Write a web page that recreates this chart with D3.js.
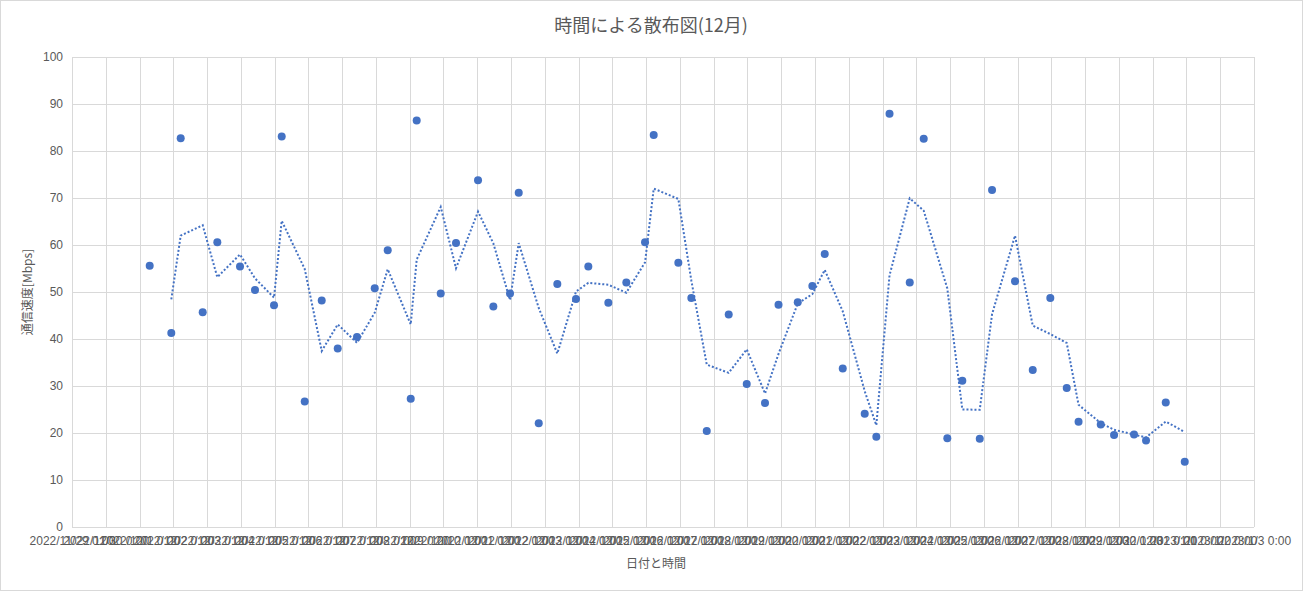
<!DOCTYPE html>
<html><head><meta charset="utf-8">
<script src="https://cdn.jsdelivr.net/npm/d3@7"></script>
<style>
html,body{margin:0;padding:0;background:#fff;}
svg{display:block;font-family:"Noto Sans CJK JP","Noto Sans",sans-serif;}
</style></head>
<body><svg id="c" width="1303" height="591"></svg>
<script>
const title = "時間による散布図(12月)";
const xTitle = "日付と時間";
const yTitle = "通信速度[Mbps]";
const xDomain = ["2022-11-29 00:00", "2023-01-03 00:00"];
const yTicks = [0,10,20,30,40,50,60,70,80,90,100];
const times = ["2022-12-01 07:13","2022-12-01 22:34","2022-12-02 05:15","2022-12-02 20:53","2022-12-03 07:16","2022-12-03 23:24","2022-12-04 10:03","2022-12-04 23:34","2022-12-05 05:02","2022-12-05 21:23","2022-12-06 09:28","2022-12-06 20:50","2022-12-07 10:32","2022-12-07 23:08","2022-12-08 08:22","2022-12-09 00:43","2022-12-09 04:58","2022-12-09 22:02","2022-12-10 08:54","2022-12-11 00:33","2022-12-11 11:26","2022-12-11 23:17","2022-12-12 05:28","2022-12-12 19:41","2022-12-13 08:54","2022-12-13 22:11","2022-12-14 06:56","2022-12-14 21:09","2022-12-15 09:56","2022-12-15 23:14","2022-12-16 05:24","2022-12-16 22:54","2022-12-17 08:08","2022-12-17 19:05","2022-12-18 10:42","2022-12-18 23:30","2022-12-19 12:30","2022-12-19 22:06","2022-12-20 11:46","2022-12-20 22:08","2022-12-21 06:56","2022-12-21 19:44","2022-12-22 11:21","2022-12-22 19:36","2022-12-23 04:59","2022-12-23 19:21","2022-12-24 05:17","2022-12-24 22:03","2022-12-25 08:43","2022-12-25 21:06","2022-12-26 05:50","2022-12-26 22:10","2022-12-27 10:45","2022-12-27 23:15","2022-12-28 10:55","2022-12-28 19:19","2022-12-29 11:05","2022-12-29 20:33","2022-12-30 10:45","2022-12-30 19:16","2022-12-31 09:17","2022-12-31 22:47"];
const speeds = [55.6,41.3,82.7,45.7,60.6,55.4,50.4,47.2,83.1,26.7,48.2,38.0,40.4,50.8,58.9,27.3,86.5,49.7,60.4,73.8,46.9,49.7,71.1,22.1,51.7,48.5,55.4,47.7,52.0,60.6,83.4,56.2,48.7,20.4,45.2,30.4,26.4,47.3,47.8,51.3,58.1,33.7,24.1,19.2,87.9,52.0,82.6,18.9,31.1,18.8,71.7,52.3,33.4,48.7,29.6,22.4,21.8,19.6,19.7,18.4,26.5,13.9];

const parse = d3.timeParse("%Y-%m-%d %H:%M");
const pts = times.map((t,i)=>({t:parse(t), v:speeds[i]}));
// 2-period moving average
const ma = pts.slice(1).map((p,i)=>({t:p.t, v:(pts[i].v+p.v)/2}));

const W=1303,H=591;
const L=72,R=1254,T=57,B=527;
const svg=d3.select("#c");
const grey="#595959", grid="#d9d9d9", blue="#4472C4";

svg.append("rect").attr("x",0.5).attr("y",0.5).attr("width",W-1).attr("height",H-1)
  .attr("fill","#fff").attr("stroke",grid);

const x=d3.scaleTime().domain(xDomain.map(parse)).range([L,R]);
const y=d3.scaleLinear().domain([0,100]).range([B,T]);
const days=d3.timeDay.range(x.domain()[0], d3.timeDay.offset(x.domain()[1],1));

// gridlines
const gx=svg.append("g").attr("transform",`translate(0,${B})`)
  .call(d3.axisBottom(x).tickValues(days).tickSize(-(B-T)).tickFormat(d3.timeFormat("%Y/%-m/%-d %-H:%M")).tickPadding(9));
gx.select(".domain").remove();
gx.selectAll("line").attr("stroke",grid).attr("shape-rendering","crispEdges");
gx.selectAll("text").attr("fill",grey).style("font-size","12px");

const gy=svg.append("g").attr("transform",`translate(${L},0)`)
  .call(d3.axisLeft(y).tickValues(yTicks).tickSize(-(R-L)).tickPadding(9));
gy.select(".domain").remove();
gy.selectAll("line").attr("stroke",grid).attr("shape-rendering","crispEdges");
gy.selectAll("text").attr("fill",grey).style("font-size","12px");

// moving average line
svg.append("path").datum(ma)
  .attr("d",d3.line().x(d=>x(d.t)).y(d=>y(d.v)))
  .attr("fill","none").attr("stroke",blue).attr("stroke-width",2)
  .attr("stroke-dasharray","2 2");

// points
svg.append("g").selectAll("circle").data(pts).join("circle")
  .attr("cx",d=>x(d.t)).attr("cy",d=>y(d.v)).attr("r",4)
  .attr("fill",blue);

svg.append("text").attr("x",651).attr("y",32).attr("text-anchor","middle")
  .attr("fill",grey).style("font-size","18px").text(title);
svg.append("text").attr("x",656).attr("y",568).attr("text-anchor","middle")
  .attr("fill",grey).style("font-size","12px").text(xTitle);
svg.append("text").attr("transform",`translate(32,${(T+B)/2}) rotate(-90)`).attr("text-anchor","middle")
  .attr("fill",grey).style("font-size","12px").text(yTitle);
</script></body></html>
